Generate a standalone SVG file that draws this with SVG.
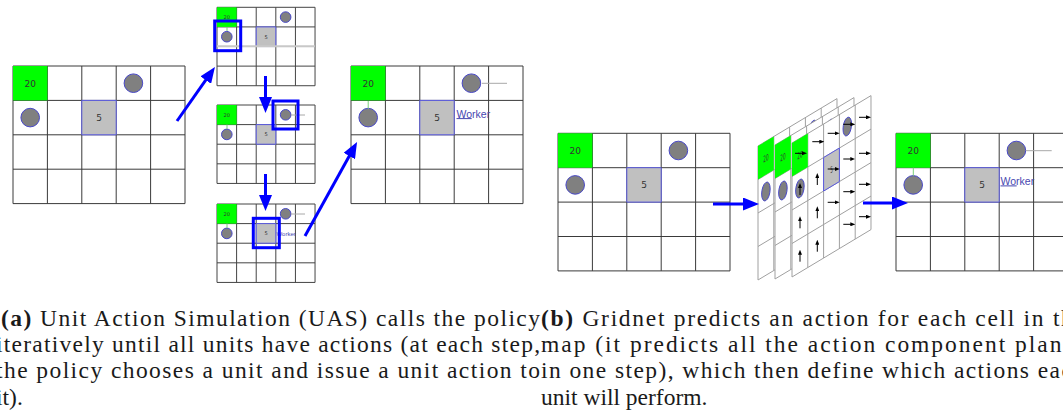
<svg xmlns="http://www.w3.org/2000/svg" xmlns:xlink="http://www.w3.org/1999/xlink" width="1063" height="415" viewBox="0 0 1063 415">
<style>
.gt{font-family:"DejaVu Sans","Liberation Sans",sans-serif;font-size:9px;fill:#333;text-anchor:middle}
.wk{font-family:"Liberation Sans","DejaVu Sans",sans-serif;fill:#4848b0}
.cap{font-family:"Liberation Serif","Times New Roman",serif;font-size:23.5px;fill:#1a1a1a}
.conn{stroke:#0000ff;stroke-width:3;fill:none;marker-end:url(#bh)}
.sel{fill:none;stroke:#0000ff;stroke-width:3}
.gline{stroke:#a8a8a8;stroke-width:1}
.grn{stroke:#7ad07a;stroke-width:1}
.ar{stroke:#000;stroke-width:1;marker-end:url(#kh)}
</style>
<defs>
<marker id="bh" markerUnits="userSpaceOnUse" markerWidth="16" markerHeight="13" refX="6" refY="6.5" orient="auto" viewBox="0 0 16 13"><path d="M0,0L16,6.5L0,13z" fill="#0000ff"/></marker>
<marker id="kh" markerUnits="userSpaceOnUse" markerWidth="5" markerHeight="4" refX="1" refY="2" orient="auto" viewBox="0 0 5 4"><path d="M0,0L5,2L0,4z" fill="#000"/></marker>
<g id="grid">
<rect width="172" height="137.6" fill="#fff"/>
<path d="M0,0V137.6M34.4,0V137.6M68.8,0V137.6M103.2,0V137.6M137.6,0V137.6M172,0V137.6M0,0H172M0,34.4H172M0,68.8H172M0,103.2H172M0,137.6H172" stroke="currentColor" fill="none" vector-effect="non-scaling-stroke"/>
<rect width="34.4" height="34.4" fill="#00ff00"/>
<rect x="68.8" y="34.4" width="34.4" height="34.4" fill="#c0c0c0" stroke="#5a5ae0" vector-effect="non-scaling-stroke"/>
<circle cx="120.4" cy="17.2" r="9.3" fill="#808080" stroke="#4848c8" vector-effect="non-scaling-stroke"/>
<circle cx="17.2" cy="51.6" r="9.3" fill="#808080" stroke="#4848c8" vector-effect="non-scaling-stroke"/>
<text class="gt" x="17.2" y="20.5">20</text>
<text class="gt" x="86" y="54.9">5</text>
</g>
</defs>

<g id="a-initial" color="#3a3a3a"><use xlink:href="#grid" transform="translate(13,66)"/></g>

<g id="a-step1" color="#444">
<use xlink:href="#grid" transform="translate(217,7.3) scale(0.57)"/>
<line x1="217" y1="46.3" x2="315" y2="46.3" stroke="#c8c8c8" stroke-width="2"/>
<line class="grn" x1="227" y1="27" x2="227" y2="31"/>
<rect class="sel" x="214.7" y="21" width="26" height="29.7"/>
</g>

<g id="a-step2" color="#444">
<use xlink:href="#grid" transform="translate(217,105) scale(0.57)"/>
<line class="grn" x1="227" y1="124.6" x2="227" y2="129"/>
<line class="gline" x1="291" y1="115" x2="305" y2="115"/>
<rect class="sel" x="273" y="101" width="25" height="28"/>
</g>

<g id="a-step3" color="#444">
<use xlink:href="#grid" transform="translate(217,204) scale(0.57)"/>
<line class="grn" x1="227" y1="223.6" x2="227" y2="228"/>
<line class="gline" x1="291" y1="214" x2="305" y2="214"/>
<text class="wk" x="276.5" y="235.5" font-size="6">Worker</text>
<rect class="sel" x="253.3" y="218.3" width="26" height="29.4"/>
</g>

<g id="a-result" color="#3a3a3a">
<use xlink:href="#grid" transform="translate(351,66)"/>
<line class="grn" x1="368.2" y1="101" x2="368.2" y2="108.8"/>
<line class="gline" x1="482" y1="83.3" x2="507" y2="83.3"/>
<text class="wk" x="456.5" y="117.7" font-size="10.5">Worker</text>
<line x1="456.5" y1="118.6" x2="471.7" y2="118.6" stroke="#4848b0" stroke-width="1"/>
</g>

<g id="b-initial" color="#3a3a3a"><use xlink:href="#grid" transform="translate(558,133.3)"/></g>

<g id="b-planes" color="#a0a0a0">
<use xlink:href="#grid" transform="matrix(0.4593,-0.2756,0,0.9738,758,146)"/>
<use xlink:href="#grid" transform="matrix(0.4593,-0.2756,0,0.9738,775,145)"/>
<use xlink:href="#grid" transform="matrix(0.4593,-0.2756,0,0.9738,792,143)"/>
<line class="ar" x1="795" y1="153.3" x2="803" y2="153.3"/>
<line class="ar" x1="812.3" y1="141.7" x2="820.3" y2="141.7"/>
<line class="ar" x1="827.7" y1="133.3" x2="835.7" y2="133.3"/>
<line class="ar" x1="843.3" y1="124.3" x2="851.3" y2="124.3"/>
<line class="ar" x1="859" y1="117.3" x2="867" y2="117.3"/>
<line class="ar" x1="827.7" y1="169" x2="835.7" y2="169"/>
<line class="ar" x1="843.3" y1="159" x2="851.3" y2="159"/>
<line class="ar" x1="859" y1="153.3" x2="867" y2="153.3"/>
<line class="ar" x1="827.7" y1="202.3" x2="835.7" y2="202.3"/>
<line class="ar" x1="843.3" y1="191.7" x2="851.3" y2="191.7"/>
<line class="ar" x1="859" y1="184.3" x2="867" y2="184.3"/>
<line class="ar" x1="843.3" y1="224.3" x2="851.3" y2="224.3"/>
<line class="ar" x1="859" y1="216.7" x2="867" y2="216.7"/>
<line class="ar" x1="800" y1="195" x2="800" y2="187"/>
<line class="ar" x1="817.3" y1="185" x2="817.3" y2="177"/>
<line class="ar" x1="800" y1="228.3" x2="800" y2="220.3"/>
<line class="ar" x1="817.3" y1="218.3" x2="817.3" y2="210.3"/>
<line class="ar" x1="800" y1="261.7" x2="800" y2="253.7"/>
<line class="ar" x1="817.3" y1="251.7" x2="817.3" y2="243.7"/>
</g>

<g id="b-result" color="#3a3a3a">
<use xlink:href="#grid" transform="translate(896,133.3)"/>
<line class="grn" x1="913.3" y1="167.7" x2="913.3" y2="175.8"/>
<line class="gline" x1="1026" y1="150.7" x2="1051.7" y2="150.7"/>
<text class="wk" x="1000.5" y="185" font-size="10.5">Worker</text>
<line x1="1000.5" y1="185.9" x2="1016.7" y2="185.9" stroke="#4848b0" stroke-width="1"/>
</g>

<g id="connectors">
<line class="conn" x1="177" y1="121" x2="209.2" y2="75.2"/>
<line class="conn" x1="265.5" y1="76" x2="265.5" y2="103"/>
<line class="conn" x1="265.5" y1="174" x2="265.5" y2="201"/>
<line class="conn" x1="305" y1="236" x2="352.2" y2="150.8"/>
<line class="conn" x1="713" y1="204" x2="749" y2="204"/>
<line class="conn" x1="863" y1="203" x2="898" y2="203"/>
</g>

<g id="captions">
<text class="cap" x="1" y="326" textLength="539" lengthAdjust="spacing"><tspan font-weight="bold">(a)</tspan> Unit Action Simulation (UAS) calls the policy</text>
<text class="cap" x="-4" y="352" textLength="544" lengthAdjust="spacing">iteratively until all units have actions (at each step,</text>
<text class="cap" x="-4" y="378" textLength="544" lengthAdjust="spacing">the policy chooses a unit and issue a unit action to</text>
<text class="cap" x="-4" y="405">it).</text>
<text class="cap" x="541" y="326" textLength="544" lengthAdjust="spacing"><tspan font-weight="bold">(b)</tspan> Gridnet predicts an action for each cell in the</text>
<text class="cap" x="541" y="352" textLength="544" lengthAdjust="spacing">map (it predicts all the action component planes</text>
<text class="cap" x="541" y="378" textLength="544" lengthAdjust="spacing">in one step), which then define which actions each</text>
<text class="cap" x="541" y="405">unit will perform.</text>
</g>
</svg>
